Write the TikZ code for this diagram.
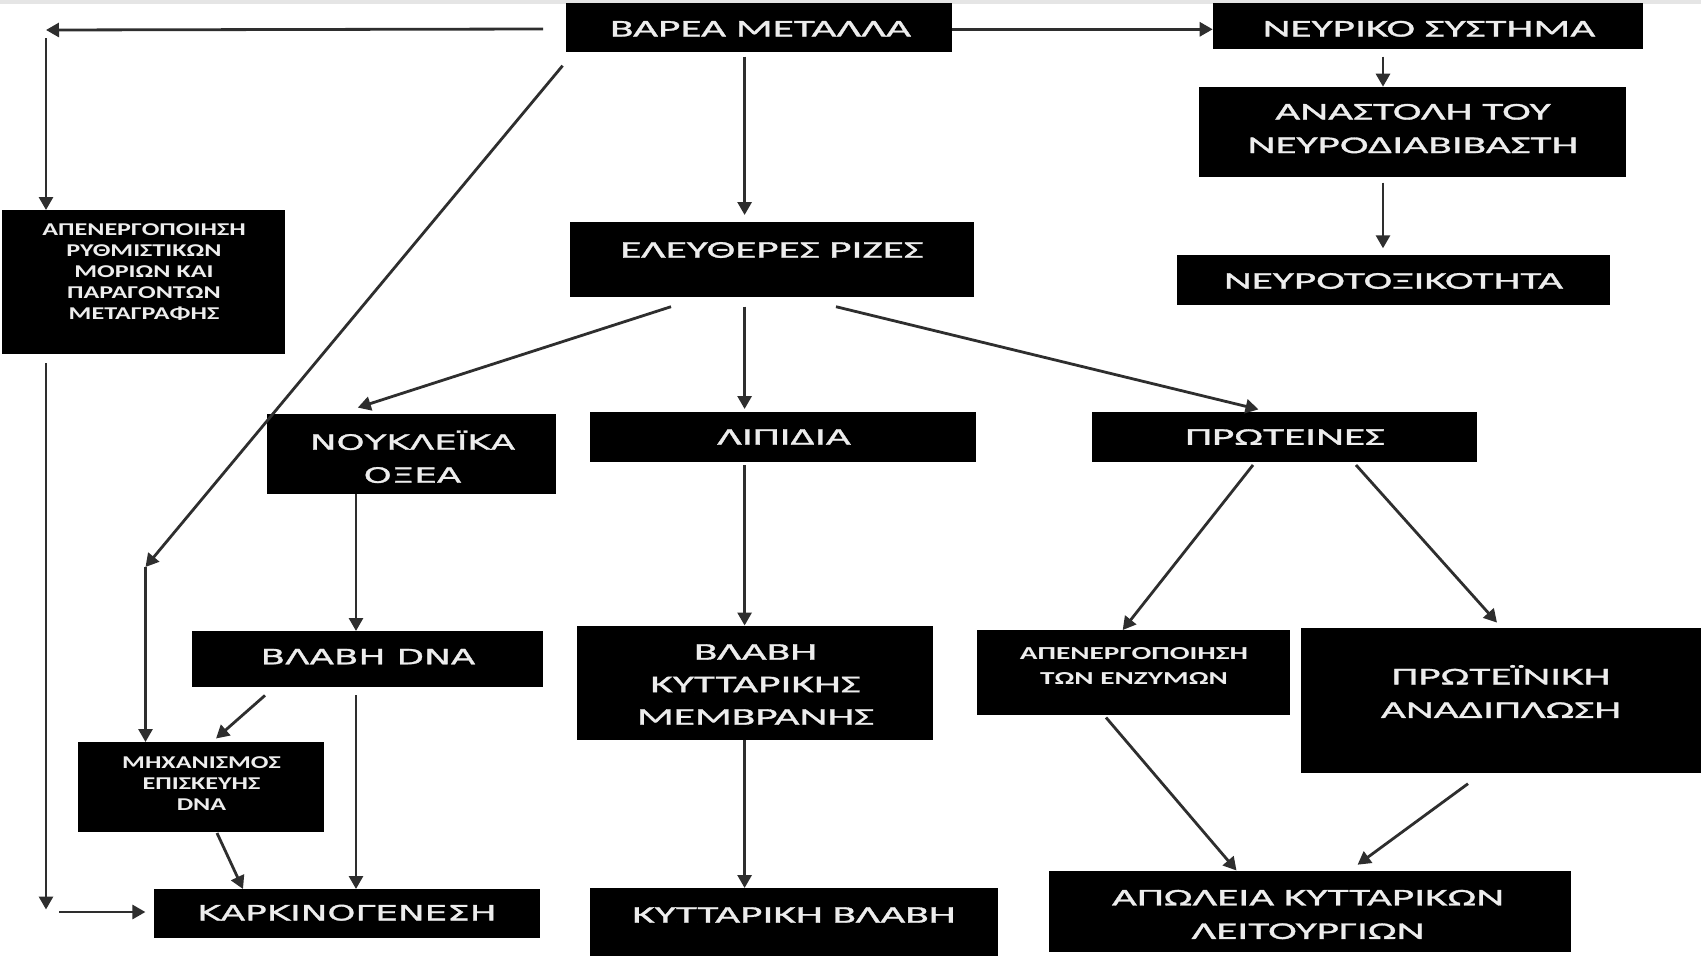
\documentclass[tikz,border=0pt]{standalone}
\usepackage{fontspec}
\setmainfont{Carlito}
\newfontfamily\fA[FakeStretch=1.8,FakeBold=1.3]{Carlito}
\newfontfamily\fB[FakeStretch=1.7,FakeBold=1.5]{DejaVu Sans}
\newfontfamily\fC[FakeStretch=1.45]{Carlito}
\newfontfamily\fD[FakeStretch=1.6]{Carlito}
\usetikzlibrary{arrows.meta,calc}
\begin{document}
\begin{tikzpicture}[x=1pt,y=-1pt,
  bx/.style 2 args={fill=black, draw=none, inner sep=0pt, outer sep=0pt, minimum width=#1pt, minimum height=#2pt},
  lab/.style={text=black!7, align=center, inner sep=0pt},
  fa/.style={lab, font=\fA\fontsize{24}{33.5}\selectfont},
  fb/.style={lab, font=\fB\fontsize{21}{33}\selectfont},
  fc/.style={lab, font=\fC\bfseries\fontsize{18}{20.9}\selectfont},
  fd/.style={lab, font=\fD\bfseries\fontsize{18.3}{24.5}\selectfont},
  arr/.style={draw=black!82, line width=2.8pt, -{Triangle[length=13pt,width=14pt]}}]
\useasboundingbox (0,0) rectangle (1701,956);
\fill[white] (0,0) rectangle (1701,956);
\fill[black!10] (0,0) rectangle (1701,4);

% boxes
\node[bx={386}{49}]   (vm)  at (759,27.5) {};
\node[bx={430}{46.6}] (ns)  at (1427.7,26) {};
\node[bx={427}{90}]   (an)  at (1412.5,131.7) {};
\node[bx={433}{50}]   (nt)  at (1393,280) {};
\node[bx={283}{144}]  (reg) at (143.5,282) {};
\node[bx={403.6}{75}] (er)  at (772,259.5) {};
\node[bx={289}{80}]   (nu)  at (411.5,454) {};
\node[bx={386}{50}]   (li)  at (783,437) {};
\node[bx={385}{50}]   (pr)  at (1284.5,437) {};
\node[bx={350.7}{56}] (bd)  at (367.3,659) {};
\node[bx={356}{114}]  (bm)  at (755,682.5) {};
\node[bx={313}{85}]   (ae)  at (1133.5,672.5) {};
\node[bx={400}{145}]  (pa)  at (1501,700.5) {};
\node[bx={246.3}{90}] (me)  at (200.8,787) {};
\node[bx={385.6}{49}] (ka)  at (346.8,913.5) {};
\node[bx={408}{68}]   (kb)  at (794,922) {};
\node[bx={522}{81}]   (ap)  at (1310,911) {};

% texts
\node[fa] (vmT)  at (760.5,28.8) {ΒΑΡΕΑ ΜΕΤΑΛΛΑ};
\node[fa] (nsT)  at (1429,28.8) {ΝΕΥΡΙΚΟ ΣΥΣΤΗΜΑ};
\node[fa] (anT)  at (1413,128.6) {ΑΝΑΣΤΟΛΗ ΤΟΥ\\ΝΕΥΡΟΔΙΑΒΙΒΑΣΤΗ};
\node[fa] (ntT)  at (1393.5,281) {ΝΕΥΡΟΤΟΞΙΚΟΤΗΤΑ};
\node[fc] (regT) at (144,271.8) {ΑΠΕΝΕΡΓΟΠΟΙΗΣΗ\\ΡΥΘΜΙΣΤΙΚΩΝ\\ΜΟΡΙΩΝ ΚΑΙ\\ΠΑΡΑΓΟΝΤΩΝ\\ΜΕΤΑΓΡΑΦΗΣ};
\node[fa] (erT)  at (772,250) {ΕΛΕΥΘΕΡΕΣ ΡΙΖΕΣ};
\node[fb] (nuT)  at (412.5,456.8) {ΝΟΥΚΛΕΪΚΑ\\ΟΞΕΑ};
\node[fa] (liT)  at (784,437) {ΛΙΠΙΔΙΑ};
\node[fa] (prT)  at (1285,437) {ΠΡΩΤΕΙΝΕΣ};
\node[fb] (bdT)  at (368,656.6) {ΒΛΑΒΗ DNA};
\node[fa, font=\fA\fontsize{24}{32.5}\selectfont] (bmT) at (755.5,684.5) {ΒΛΑΒΗ\\ΚΥΤΤΑΡΙΚΗΣ\\ΜΕΜΒΡΑΝΗΣ};
\node[fd] (aeT)  at (1134,666) {ΑΠΕΝΕΡΓΟΠΟΙΗΣΗ\\ΤΩΝ ΕΝΖΥΜΩΝ};
\node[fa] (paT)  at (1501,691.5) {ΠΡΩΤΕΪΝΙΚΗ\\ΑΝΑΔΙΠΛΩΣΗ};
\node[fc] (meT)  at (201.5,783.6) {ΜΗΧΑΝΙΣΜΟΣ\\ΕΠΙΣΚΕΥΗΣ\\DNA};
\node[fb] (kaT)  at (347,912.7) {ΚΑΡΚΙΝΟΓΕΝΕΣΗ};
\node[fa] (kbT)  at (794,915) {ΚΥΤΤΑΡΙΚΗ ΒΛΑΒΗ};
\node[fa] (apT)  at (1308,914.5) {ΑΠΩΛΕΙΑ ΚΥΤΤΑΡΙΚΩΝ\\ΛΕΙΤΟΥΡΓΙΩΝ};

% free ends
\coordinate (cTL) at (46,30);
\coordinate (cBL) at (46,909.5);
\coordinate (cM)  at (145.5,567);

% connectors
\draw[arr] ($(vm.west)+(-23,1.5)$) -- (cTL);
\draw[arr] ($(cTL)+(0,8)$) -- (cTL |- reg.north);
\draw[arr] ($(cTL |- reg.south)+(0,9)$) -- (cBL);
\draw[arr] ($(cBL)+(13,2.5)$) -- ($(ka.west)+(-8.6,-1.5)$);
\draw[arr] ($(vm.south west)+(-3.4,13.7)$) -- (cM);
\draw[arr] (cM) -- (cM |- me.north);
\draw[arr] ($(vm.east)+(0,1.8)$) -- ($(ns.west)+(0,3.3)$);
\draw[arr] ($(vm.south)+(-14.4,4.7)$) -- ($(er.north)+(-27.4,-7)$);
\draw[arr] ($(ns.south)+(-44.7,7.4)$) -- ($(an.north)+(-29.5,0)$);
\draw[arr] ($(an.south)+(-29.5,6)$) -- ($(nt.north)+(-10,-6.7)$);
\draw[arr] ($(er.south)+(-101,9.7)$) -- ($(nu.north)+(-53.7,-6.4)$);
\draw[arr] ($(er.south)+(-27.4,9.7)$) -- ($(li.north)+(-38.4,-3)$);
\draw[arr] ($(er.south)+(64,9.7)$) -- ($(pr.north)+(-26,-2.6)$);
\draw[arr] ($(nu.south)+(-55.5,0)$) -- ($(bd.north)+(-11.3,0)$);
\draw[arr] ($(li.south)+(-38.4,3)$) -- ($(bm.north)+(-10.4,0)$);
\draw[arr] ($(bm.south)+(-10.4,0)$) -- ($(kb.north)+(-49.4,0)$);
\draw[arr] ($(pr.south)+(-31.5,3)$) -- ($(ae.north)+(-10.8,0)$);
\draw[arr] ($(pr.south)+(71.5,3)$) -- ($(pa.north)+(-4,-5.4)$);
\draw[arr] ($(bd.south)+(-102.3,8.4)$) -- ($(me.north)+(15.2,-3.5)$);
\draw[arr] ($(bd.south)+(-11.3,8)$) -- ($(ka.north)+(9.2,0)$);
\draw[arr] ($(me.south)+(16.2,1)$) -- ($(ka.north)+(-103.8,0)$);
\draw[arr] ($(ae.south)+(-27.5,2.5)$) -- ($(ap.north)+(-73.5,0)$);
\draw[arr] ($(pa.south)+(-33,10.7)$) -- ($(ap.north)+(47.6,-5.8)$);
\end{tikzpicture}
\end{document}
